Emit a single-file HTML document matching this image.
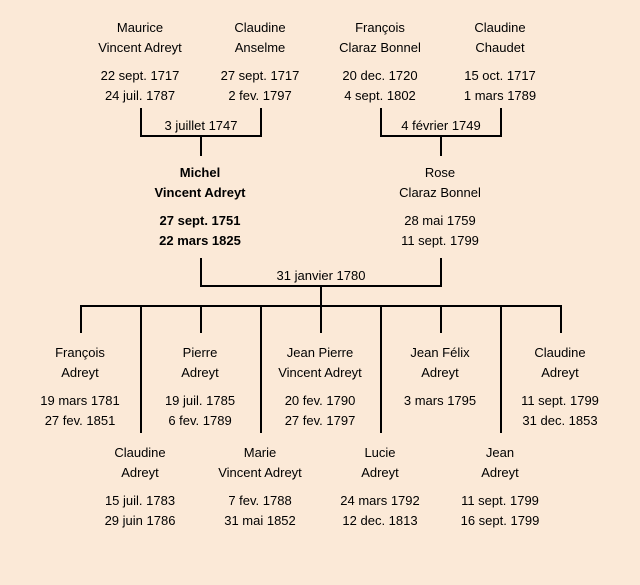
<!DOCTYPE html>
<html>
<head>
<meta charset="utf-8">
<style>
  html, body { margin: 0; padding: 0; background: #fbe9d7; }
  svg { display: block; }
  text { font-family: "Liberation Sans", "DejaVu Sans", sans-serif; font-size: 13px; fill: #000; text-anchor: middle; }
  .b { font-weight: bold; }
</style>
</head>
<body>
<svg width="640" height="585" viewBox="0 0 640 585" xmlns="http://www.w3.org/2000/svg">
  <rect x="0" y="0" width="640" height="585" fill="#fbe9d7"/>
  <g stroke="#000" stroke-width="2" fill="none">
    <!-- bracket 1 -->
    <polyline points="141,108 141,136 261,136 261,108"/>
    <line x1="201" y1="136" x2="201" y2="156"/>
    <!-- bracket 2 -->
    <polyline points="381,108 381,136 501,136 501,108"/>
    <line x1="441" y1="136" x2="441" y2="156"/>
    <!-- bracket 3 -->
    <polyline points="201,258 201,286 441,286 441,258"/>
    <line x1="321" y1="286" x2="321" y2="306"/>
    <!-- children bar -->
    <line x1="80" y1="306" x2="562" y2="306"/>
    <line x1="81" y1="306" x2="81" y2="333"/>
    <line x1="201" y1="306" x2="201" y2="333"/>
    <line x1="321" y1="306" x2="321" y2="333"/>
    <line x1="441" y1="306" x2="441" y2="333"/>
    <line x1="561" y1="306" x2="561" y2="333"/>
    <line x1="141" y1="306" x2="141" y2="433"/>
    <line x1="261" y1="306" x2="261" y2="433"/>
    <line x1="381" y1="306" x2="381" y2="433"/>
    <line x1="501" y1="306" x2="501" y2="433"/>
  </g>

  <!-- grandparents -->
  <text x="140" y="32">Maurice</text>
  <text x="140" y="52">Vincent Adreyt</text>
  <text x="140" y="80">22 sept. 1717</text>
  <text x="140" y="100">24 juil. 1787</text>

  <text x="260" y="32">Claudine</text>
  <text x="260" y="52">Anselme</text>
  <text x="260" y="80">27 sept. 1717</text>
  <text x="260" y="100">2 fev. 1797</text>

  <text x="380" y="32">François</text>
  <text x="380" y="52">Claraz Bonnel</text>
  <text x="380" y="80">20 dec. 1720</text>
  <text x="380" y="100">4 sept. 1802</text>

  <text x="500" y="32">Claudine</text>
  <text x="500" y="52">Chaudet</text>
  <text x="500" y="80">15 oct. 1717</text>
  <text x="500" y="100">1 mars 1789</text>

  <text x="201" y="130">3 juillet 1747</text>
  <text x="441" y="130">4 février 1749</text>

  <!-- parents -->
  <text class="b" x="200" y="177">Michel</text>
  <text class="b" x="200" y="197">Vincent Adreyt</text>
  <text class="b" x="200" y="225">27 sept. 1751</text>
  <text class="b" x="200" y="245">22 mars 1825</text>

  <text x="440" y="177">Rose</text>
  <text x="440" y="197">Claraz Bonnel</text>
  <text x="440" y="225">28 mai 1759</text>
  <text x="440" y="245">11 sept. 1799</text>

  <text x="321" y="280">31 janvier 1780</text>

  <!-- children row 1 -->
  <text x="80" y="357">François</text>
  <text x="80" y="377">Adreyt</text>
  <text x="80" y="405">19 mars 1781</text>
  <text x="80" y="425">27 fev. 1851</text>

  <text x="200" y="357">Pierre</text>
  <text x="200" y="377">Adreyt</text>
  <text x="200" y="405">19 juil. 1785</text>
  <text x="200" y="425">6 fev. 1789</text>

  <text x="320" y="357">Jean Pierre</text>
  <text x="320" y="377">Vincent Adreyt</text>
  <text x="320" y="405">20 fev. 1790</text>
  <text x="320" y="425">27 fev. 1797</text>

  <text x="440" y="357">Jean Félix</text>
  <text x="440" y="377">Adreyt</text>
  <text x="440" y="405">3 mars 1795</text>

  <text x="560" y="357">Claudine</text>
  <text x="560" y="377">Adreyt</text>
  <text x="560" y="405">11 sept. 1799</text>
  <text x="560" y="425">31 dec. 1853</text>

  <!-- children row 2 -->
  <text x="140" y="457">Claudine</text>
  <text x="140" y="477">Adreyt</text>
  <text x="140" y="505">15 juil. 1783</text>
  <text x="140" y="525">29 juin 1786</text>

  <text x="260" y="457">Marie</text>
  <text x="260" y="477">Vincent Adreyt</text>
  <text x="260" y="505">7 fev. 1788</text>
  <text x="260" y="525">31 mai 1852</text>

  <text x="380" y="457">Lucie</text>
  <text x="380" y="477">Adreyt</text>
  <text x="380" y="505">24 mars 1792</text>
  <text x="380" y="525">12 dec. 1813</text>

  <text x="500" y="457">Jean</text>
  <text x="500" y="477">Adreyt</text>
  <text x="500" y="505">11 sept. 1799</text>
  <text x="500" y="525">16 sept. 1799</text>
</svg>
</body>
</html>
